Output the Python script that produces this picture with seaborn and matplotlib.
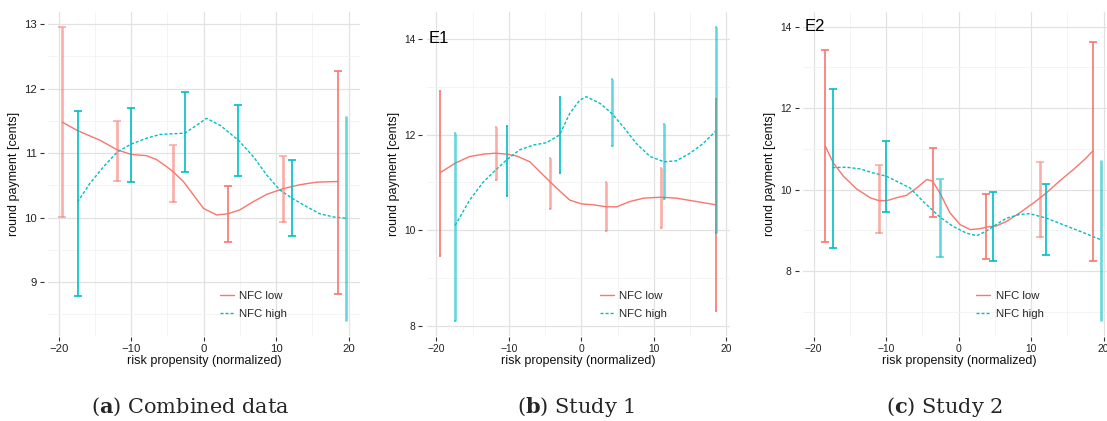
import matplotlib
matplotlib.use("Agg")
import matplotlib.pyplot as plt
from matplotlib.ticker import MultipleLocator, AutoMinorLocator
import pandas as pd
import seaborn as sns

LOW = "#F8766D"
HIGH = "#00BFC4"
GROUPS = ["NFC low", "NFC high"]

# ---- (a) Combined data : error bars (lower / upper) ----
a_low_x = [-19.5, -11.9, -4.2, 3.4, 11.0, 18.6]
a_low_lo = [10.01, 10.56, 10.24, 9.62, 9.93, 8.82]
a_low_hi = [12.96, 11.50, 11.13, 10.49, 10.96, 12.28]
a_high_x = [-17.4, -10.0, -2.6, 4.8, 12.2, 19.6]
a_high_lo = [8.78, 10.55, 10.71, 10.65, 9.72, 8.40]
a_high_hi = [11.66, 11.70, 11.95, 11.75, 10.90, 11.58]
# smoothed fits
a_low_fit_x = [-19.5, -17.4, -14.3, -11.9, -10.0, -7.9, -6.5, -5.1, -4.2, -2.8, -1.4,
               0.0, 1.8, 3.4, 5.0, 6.9, 8.7, 11.0, 13.3, 15.6, 18.6]
a_low_fit_y = [11.48, 11.35, 11.20, 11.05, 10.98, 10.96, 10.90, 10.79, 10.71, 10.56, 10.35,
               10.14, 10.04, 10.06, 10.12, 10.25, 10.36, 10.45, 10.51, 10.55, 10.56]
a_high_fit_x = [-17.4, -15.7, -13.8, -11.9, -10.0, -7.9, -6.0, -4.2, -2.6, -1.0, 0.4,
                2.3, 4.8, 6.9, 8.7, 10.5, 12.2, 14.2, 16.0, 17.9, 19.6]
a_high_fit_y = [10.24, 10.53, 10.79, 11.02, 11.14, 11.23, 11.29, 11.30, 11.31, 11.43, 11.54,
                11.43, 11.20, 10.94, 10.66, 10.43, 10.30, 10.17, 10.06, 10.01, 9.99]

# ---- (b) Study 1 ----
b_low_x = [-19.5, -11.8, -4.3, 3.4, 11.0, 18.6]
b_low_lo = [9.46, 11.05, 10.45, 9.98, 10.05, 8.31]
b_low_hi = [12.91, 12.16, 11.51, 11.01, 11.29, 12.74]
b_high_x = [-17.4, -10.3, -3.0, 4.2, 11.4, 18.6]
b_high_lo = [8.11, 10.72, 11.20, 11.75, 10.66, 9.94]
b_high_hi = [12.04, 12.18, 12.79, 13.17, 12.21, 14.25]
b_low_fit_x = [-19.5, -17.4, -15.4, -13.5, -11.8, -10.3, -8.9, -7.1, -5.7, -4.3, -2.9,
               -1.6, 0.0, 1.7, 3.4, 4.9, 6.7, 8.6, 11.0, 13.1, 15.9, 18.6]
b_low_fit_y = [11.20, 11.40, 11.54, 11.59, 11.61, 11.59, 11.55, 11.43, 11.22, 11.01, 10.81,
               10.63, 10.55, 10.53, 10.49, 10.49, 10.60, 10.67, 10.69, 10.67, 10.60, 10.53]
b_high_fit_x = [-17.4, -15.4, -13.5, -11.8, -10.3, -8.5, -6.6, -4.8, -3.0, -1.6, -0.2,
                0.7, 2.6, 4.2, 5.8, 7.6, 9.5, 11.4, 13.1, 15.0, 16.8, 18.6]
b_high_fit_y = [10.10, 10.63, 11.01, 11.26, 11.47, 11.68, 11.78, 11.83, 11.99, 12.44, 12.72,
                12.79, 12.65, 12.44, 12.16, 11.81, 11.54, 11.43, 11.45, 11.61, 11.81, 12.08]

# ---- (c) Study 2 ----
c_low_x = [-18.4, -11.0, -3.6, 3.8, 11.2, 18.5]
c_low_lo = [8.71, 8.93, 9.32, 8.29, 8.83, 8.24]
c_low_hi = [13.43, 10.61, 11.03, 9.89, 10.67, 13.63]
c_high_x = [-17.4, -10.0, -2.6, 4.8, 12.1, 19.6]
c_high_lo = [8.56, 9.45, 8.35, 8.24, 8.40, 6.78]
c_high_hi = [12.48, 11.19, 10.27, 9.94, 10.13, 10.72]
c_low_fit_x = [-18.4, -17.3, -15.9, -14.1, -12.2, -11.0, -9.9, -8.6, -7.2, -5.8, -4.4, -3.6,
               -2.6, -1.2, 0.2, 1.6, 2.9, 3.8, 5.2, 6.6, 8.4, 10.3, 12.1, 13.9, 15.8, 17.6, 18.5]
c_low_fit_y = [11.07, 10.66, 10.33, 10.02, 9.80, 9.73, 9.73, 9.80, 9.86, 10.04, 10.25, 10.21,
               9.92, 9.43, 9.14, 9.02, 9.04, 9.08, 9.11, 9.22, 9.43, 9.67, 9.92, 10.21, 10.49, 10.78, 10.95]
c_high_fit_x = [-17.4, -15.5, -13.6, -11.8, -10.0, -8.6, -6.7, -4.9, -2.6, -0.8, 1.1,
                2.5, 3.8, 4.8, 6.6, 8.4, 9.8, 12.1, 14.4, 16.7, 19.6]
c_high_fit_y = [10.54, 10.55, 10.51, 10.41, 10.33, 10.21, 10.04, 9.71, 9.33, 9.10, 8.93,
                8.87, 8.98, 9.10, 9.30, 9.39, 9.41, 9.30, 9.14, 8.98, 8.77]

captions = [r"($\mathbf{a}$) Combined data", r"($\mathbf{b}$) Study 1", r"($\mathbf{c}$) Study 2"]
tags = [None, "E1", "E2"]

# bar look: 0 normal, 1 faded, 2 faded without caps
a_low_look = [1, 1, 1, 0, 1, 0]
a_high_look = [0, 0, 0, 0, 0, 2]
b_low_look = [0, 1, 1, 1, 1, 0]
b_high_look = [1, 0, 0, 1, 1, 1]
c_low_look = [0, 1, 0, 0, 1, 0]
c_high_look = [0, 0, 1, 0, 0, 2]

sns.set_theme(style="whitegrid")
plt.rcParams["font.family"] = ["Liberation Sans", "DejaVu Sans"]
plt.rcParams["mathtext.fontset"] = "dejavuserif"

fig = plt.figure(figsize=(11.07, 4.21), dpi=100)
W, H = 1107.0, 421.0


def rect(left, right, top=12.0, bottom=335.5):
    return [left / W, (H - bottom) / H, (right - left) / W, (bottom - top) / H]


panels = [
    dict(rect=rect(47.8, 360.2), xlim=(-21.5, 21.6), ylim=(8.17, 13.19), ystep=1, cap=3.0, fs=8.2,
         low=(a_low_x, a_low_lo, a_low_hi, a_low_look), high=(a_high_x, a_high_lo, a_high_hi, a_high_look),
         fit=(a_low_fit_x, a_low_fit_y, a_high_fit_x, a_high_fit_y), leg=(0.551, 0.052)),
    dict(rect=rect(426.5, 729.7), xlim=(-21.35, 20.47), ylim=(7.80, 14.56), ystep=2, cap=0.8, fs=7.4,
         low=(b_low_x, b_low_lo, b_low_hi, b_low_look), high=(b_high_x, b_high_lo, b_high_hi, b_high_look),
         fit=(b_low_fit_x, b_low_fit_y, b_high_fit_x, b_high_fit_y), leg=(0.572, 0.052)),
    dict(rect=rect(802.8, 1115.3), xlim=(-21.5, 21.6), ylim=(6.42, 14.36), ystep=2, cap=3.2, fs=7.4,
         low=(c_low_x, c_low_lo, c_low_hi, c_low_look), high=(c_high_x, c_high_lo, c_high_hi, c_high_look),
         fit=(c_low_fit_x, c_low_fit_y, c_high_fit_x, c_high_fit_y), leg=(0.555, 0.052)),
]
caption_x = [190, 576, 944]

for i, p in enumerate(panels):
    ax = fig.add_axes(p["rect"])
    lx, ly, hx, hy = p["fit"]
    fit = pd.concat([
        pd.DataFrame({"x": lx, "y": ly, "group": GROUPS[0]}),
        pd.DataFrame({"x": hx, "y": hy, "group": GROUPS[1]}),
    ])
    sns.lineplot(data=fit, x="x", y="y", hue="group", style="group", hue_order=GROUPS,
                 style_order=GROUPS, palette=[LOW, HIGH],
                 dashes={"NFC low": "", "NFC high": (2.2, 1.4)},
                 estimator=None, sort=False, lw=1.0, ax=ax)

    for color, (xs, lo, hi, look) in [(LOW, p["low"]), (HIGH, p["high"])]:
        for x, a, b, k in zip(xs, lo, hi, look):
            mid = (a + b) / 2
            ax.errorbar(x, mid, yerr=[[mid - a], [b - mid]], fmt="none", ecolor=color,
                        elinewidth=1.9 if k else 1.2, capthick=1.2,
                        capsize=0 if k == 2 else p["cap"], alpha=0.6 if k else 1.0, zorder=3)

    if tags[i]:
        ax.text(p["xlim"][0] + 0.3, 14, tags[i], ha="left", va="center", fontsize=12, color="black")

    ax.set_xlim(*p["xlim"])
    ax.set_ylim(*p["ylim"])
    ax.xaxis.set_major_locator(MultipleLocator(10))
    ax.yaxis.set_major_locator(MultipleLocator(p["ystep"]))
    ax.xaxis.set_minor_locator(AutoMinorLocator(2))
    ax.yaxis.set_minor_locator(AutoMinorLocator(2))
    ax.grid(which="major", color="#e2e2e2", lw=0.9)
    ax.grid(which="minor", color="#f3f3f3", lw=0.6)
    ax.set_facecolor("white")
    for s in ax.spines.values():
        s.set_visible(False)
    ax.spines["left"].set_position(("outward", 3))
    ax.spines["bottom"].set_position(("outward", 1))
    ax.tick_params(which="major", length=3, width=0.8, color="#333333", pad=2,
                   labelsize=p["fs"], labelcolor="#222222", left=True, bottom=True)
    ax.tick_params(which="minor", length=0)
    ax.set_xlabel("risk propensity (normalized)", fontsize=9, labelpad=1, color="#111111")
    ax.set_ylabel("round payment [cents]", fontsize=9, labelpad=3, color="#111111")

    sns.move_legend(ax, "lower left", bbox_to_anchor=p["leg"], title=None, frameon=False,
                    fontsize=8.2, handlelength=1.2, handletextpad=0.5, labelspacing=0.65,
                    borderpad=0, borderaxespad=0)

    fig.text(caption_x[i] / W, (H - 407) / H, captions[i], ha="center", va="center",
             fontsize=15, family="DejaVu Serif")

fig.savefig("out.png", dpi=100)
